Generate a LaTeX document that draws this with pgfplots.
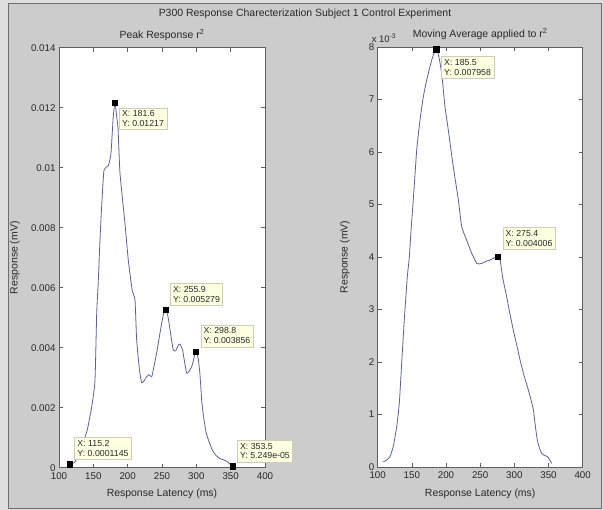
\documentclass[border=0pt]{standalone}
\usepackage{pgfplots}
\pgfplotsset{compat=1.18}
\usepackage{fontspec}
\setmainfont{Liberation Sans}

\definecolor{figbg}{RGB}{204,204,204}
\definecolor{outerbg}{RGB}{222,222,222}
\definecolor{framegray}{RGB}{110,110,110}
\definecolor{axgray}{RGB}{95,95,95}
\definecolor{txtgray}{RGB}{40,40,40}
\definecolor{curve}{RGB}{95,95,155}
\definecolor{tipfill}{RGB}{255,255,225}
\definecolor{tipdraw}{RGB}{205,205,185}

\tikzset{
  datatip/.style={fill=tipfill, draw=tipdraw, line width=0.5pt, align=left,
    font=\fontsize{8.8}{10}\selectfont, text=txtgray, inner sep=2.8bp},
}
\pgfplotsset{
  matlab/.style={
    scale only axis,
    anchor=south west,
    axis background/.style={fill=white},
    axis line style={axgray, line width=0.7pt},
    tick style={axgray, line width=0.6pt},
    major tick length=4bp,
    tick align=inside,
    scaled ticks=false,
    xmin=100, xmax=400,
    xtick={100,150,200,250,300,350,400},
    xticklabels={100,150,200,250,300,350,400},
    ticklabel style={font=\fontsize{9.8}{10}\selectfont, text=txtgray},
    xticklabel style={yshift=-1.5bp},
    label style={font=\fontsize{10.5}{11}\selectfont, text=txtgray},
    title style={font=\fontsize{10.5}{11}\selectfont, text=txtgray, yshift=-2bp},
    xlabel={Response Latency (ms)},
    ylabel={Response (mV)},
    xlabel style={at={(axis description cs:0.5,-0.063)}, anchor=center},
    clip=false,
  },
  curvestyle/.style={curve, line width=0.8pt, smooth, tension=0.3},
  tipmark/.style={only marks, mark=square*, mark size=2.6bp, black},
}

\begin{document}
\begin{tikzpicture}
\path[use as bounding box] (0,0) rectangle (603bp,510bp);
\fill[outerbg] (0,0) rectangle (603bp,510bp);
\filldraw[fill=figbg, draw=framegray, line width=1pt] (8bp,2bp) rectangle (601bp,506bp);

\node[font=\fontsize{10.5}{12}\selectfont, text=txtgray] at (305bp,496bp)
  {P300 Response Charecterization Subject 1 Control Experiment};

% left: peak response
\begin{axis}[matlab,
  at={(59bp,42.3bp)}, width=206bp, height=420bp,
  ymin=0, ymax=0.014,
  ytick={0,0.002,0.004,0.006,0.008,0.01,0.012,0.014},
  yticklabels={0,0.002,0.004,0.006,0.008,0.01,0.012,0.014},
  ylabel style={at={(axis description cs:-0.214,0.5)}, anchor=center},
  title={Peak Response r\textsuperscript{2}},
]
\addplot[curvestyle] coordinates {
  (115.2,0.0001145) (123.3,0.00019) (130.6,0.00059) (136,0.0009)
  (141.2,0.00126) (147.6,0.00203) (152.4,0.0029) (154.9,0.00515)
  (157.2,0.0062) (159.7,0.0076) (162.1,0.0087) (165.5,0.00992)
  (171.8,0.01006) (175.7,0.01048) (179,0.0117) (181.6,0.01217)
  (184,0.0117) (186,0.0113) (188.8,0.00982) (196,0.00816)
  (200.9,0.00692) (206.7,0.0059) (210.7,0.00559) (213.1,0.00426)
  (217,0.0033) (220.4,0.00283) (224,0.0029) (227.7,0.00303)
  (231,0.0031) (235,0.00303) (237.3,0.00326) (242,0.0038)
  (247,0.00448) (252,0.0051) (255.9,0.005279) (259,0.0050)
  (263,0.0044) (266.4,0.00392) (270,0.0039) (274,0.0041)
  (276.2,0.00412) (280,0.00392) (283,0.0035) (285.9,0.00315)
  (289,0.0032) (293.2,0.00337) (296,0.0036) (298.8,0.003856)
  (301,0.0038) (303,0.0036) (305.3,0.0031) (308,0.0022)
  (310.5,0.0017) (314,0.0012) (318,0.0009) (323,0.0006)
  (329,0.0004) (335,0.0003) (340,0.00026) (345,0.0002)
  (349,0.00012) (353.5,0.0000525)
};
\addplot[tipmark] coordinates {
  (115.2,0.0001145) (181.6,0.01217) (255.9,0.005279)
  (298.8,0.003856) (353.5,0.0000525)
};
\node[datatip, anchor=south west, xshift=5bp, yshift=5bp] at (axis cs:115.2,0.0001145)
  {X: 115.2\\Y: 0.0001145};
\node[datatip, anchor=north west, xshift=4bp, yshift=-5bp] at (axis cs:181.6,0.01217)
  {X: 181.6\\Y: 0.01217};
\node[datatip, anchor=south west, xshift=4bp, yshift=4bp] at (axis cs:255.9,0.005279)
  {X: 255.9\\Y: 0.005279};
\node[datatip, anchor=south west, xshift=5bp, yshift=5bp] at (axis cs:298.8,0.003856)
  {X: 298.8\\Y: 0.003856};
\node[datatip, anchor=south west, xshift=4bp, yshift=4bp] at (axis cs:353.5,0.0000525)
  {X: 353.5\\Y: 5.249e-05};
\end{axis}

% right: moving average (values in units of 10^-3)
\begin{axis}[matlab,
  at={(377.7bp,43bp)}, width=205bp, height=420bp,
  ymin=0, ymax=8,
  ytick={0,1,2,3,4,5,6,7,8},
  yticklabels={0,1,2,3,4,5,6,7,8},
  ylabel style={at={(axis description cs:-0.16,0.5)}, anchor=center},
  title={Moving Average applied to r\textsuperscript{2}},
]
\addplot[curvestyle] coordinates {
  (108.2,0.10) (113,0.13) (118,0.20) (122.8,0.39) (127.8,0.77)
  (131.6,1.21) (135.1,1.98) (138.9,2.80) (143.3,3.62) (146.3,4.00)
  (149,4.55) (152.1,5.09) (157.1,6.04) (161.9,6.61) (166.7,7.05)
  (171.7,7.37) (179,7.75) (185.5,7.958) (189,7.85) (193.6,7.5)
  (198.5,6.86) (203.3,6.42) (210.6,5.72) (218,5.09) (222.9,4.58)
  (230.2,4.32) (237.6,4.07) (244.9,3.88) (250,3.87) (254.5,3.89)
  (259,3.92) (264.3,3.94) (270,3.98) (275.4,4.006) (279,3.95)
  (283,3.6) (288.8,3.24) (293,2.95) (298.4,2.61) (303,2.35)
  (308.3,2.04) (314,1.75) (320.4,1.47) (324,1.3) (327.8,1.09)
  (331,0.75) (333.6,0.51) (337,0.35) (340,0.26) (344,0.22)
  (348.2,0.20) (351,0.15) (354.6,0.07)
};
\addplot[tipmark] coordinates {(185.5,7.958) (275.4,4.006)};
\node[datatip, anchor=north west, xshift=5bp, yshift=-7bp] at (axis cs:185.5,7.958)
  {X: 185.5\\Y: 0.007958};
\node[datatip, anchor=south west, xshift=5bp, yshift=7bp] at (axis cs:275.4,4.006)
  {X: 275.4\\Y: 0.004006};
\node[anchor=south west, font=\fontsize{9.5}{10}\selectfont, text=txtgray, inner sep=0pt]
  at (rel axis cs:-0.03,1.01) {x 10\textsuperscript{-3}};
\end{axis}
\end{tikzpicture}
\end{document}
